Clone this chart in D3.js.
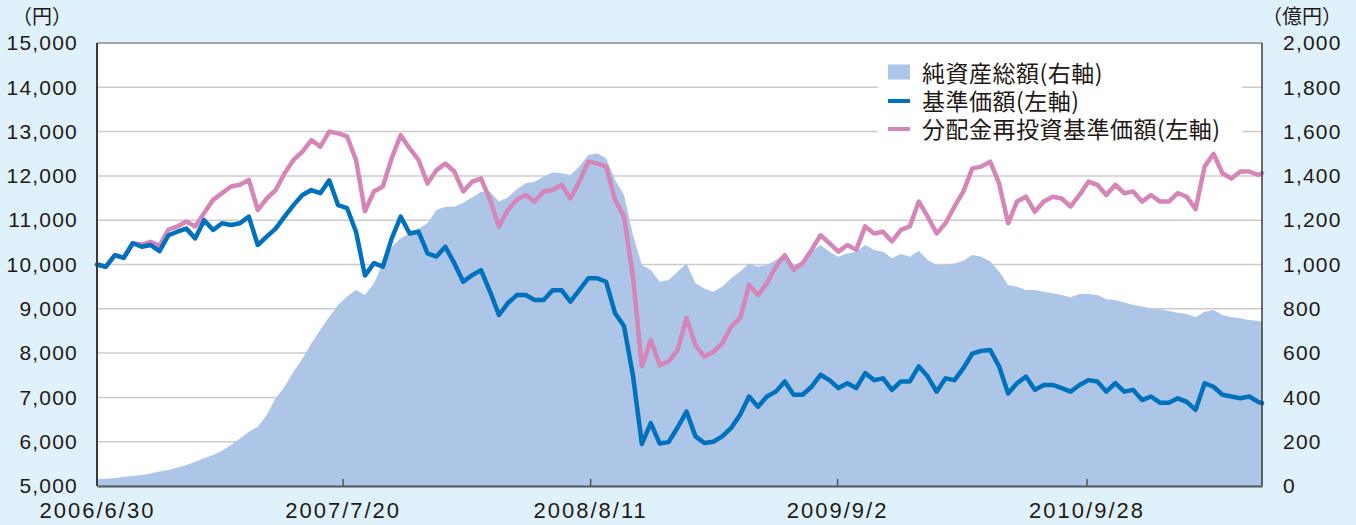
<!DOCTYPE html>
<html>
<head>
<meta charset="utf-8">
<script src="https://cdn.jsdelivr.net/npm/d3@7"></script>
<style>
  html, body { margin: 0; padding: 0; background: #dff1fb; }
  svg { display: block; }
</style>
</head>
<body>
<div id="chart"></div>
<script>
var startDate = "2006-06-30";
var endDate = "2011-06-30";
var stepDays = 14;
var tickDates = ["2006-06-30", "2007-07-20", "2008-08-11", "2009-09-02", "2010-09-28"];
var leftTicks = [5000, 6000, 7000, 8000, 9000, 10000, 11000, 12000, 13000, 14000, 15000];
var rightTicks = [0, 200, 400, 600, 800, 1000, 1200, 1400, 1600, 1800, 2000];
var legendLabels = ["純資産総額(右軸)", "基準価額(左軸)", "分配金再投資基準価額(左軸)"];

// 基準価額 (円)
var navPrice = [10000, 9950, 10210, 10150, 10480, 10400, 10440, 10300, 10660, 10740,
  10810, 10590, 11000, 10780, 10930, 10890, 10930, 11080, 10440, 10630,
  10810, 11080, 11340, 11570, 11680, 11610, 11900, 11340, 11270, 10740,
  9750, 10030, 9950, 10590, 11080, 10700, 10740, 10250, 10180, 10400,
  10030, 9610, 9760, 9870, 9390, 8860, 9130, 9310, 9310, 9200,
  9200, 9420, 9420, 9160, 9420, 9690, 9690, 9610, 8900, 8610,
  7500, 5950, 6420, 5960, 5990, 6320, 6680, 6120, 5970, 6000,
  6120, 6310, 6610, 7020, 6790, 7020, 7130, 7360, 7060, 7060,
  7240, 7510, 7390, 7210, 7320, 7210, 7550, 7390, 7430, 7170,
  7360, 7360, 7700, 7470, 7130, 7430, 7390, 7660, 7990, 8050,
  8070, 7700, 7090, 7320, 7470, 7170, 7280, 7280, 7210, 7130,
  7280, 7390, 7360, 7130, 7320, 7130, 7170, 6940, 7020, 6880,
  6880, 6980, 6900, 6720, 7320, 7240, 7060, 7020, 6980, 7020,
  6900, 6870];

// 分配金再投資基準価額 (円)
var reinvPrice = [10000, 9950, 10210, 10150, 10480, 10450, 10510, 10420, 10790, 10860,
  10970, 10860, 11160, 11460, 11610, 11760, 11800, 11910, 11230, 11490,
  11680, 12060, 12360, 12550, 12810, 12660, 13000, 12960, 12890, 12360,
  11200, 11650, 11760, 12400, 12920, 12620, 12360, 11830, 12130, 12280,
  12100, 11650, 11870, 11940, 11460, 10860, 11230, 11460, 11570, 11420,
  11650, 11680, 11800, 11490, 11870, 12320, 12280, 12210, 11460, 11080,
  9730, 7700, 8300, 7730, 7810, 8070, 8790, 8180, 7920, 8030,
  8220, 8600, 8790, 9540, 9310, 9580, 9950, 10210, 9880, 10030,
  10330, 10660, 10480, 10290, 10440, 10330, 10860, 10700, 10740, 10520,
  10780, 10860, 11420, 11080, 10700, 10930, 11310, 11650, 12170, 12210,
  12320, 11830, 10930, 11420, 11530, 11190, 11420, 11530, 11490, 11310,
  11570, 11870, 11800, 11570, 11800, 11610, 11650, 11420, 11570, 11420,
  11420, 11610, 11530, 11250, 12210, 12500, 12060, 11940, 12100, 12100,
  12020, 12060];

// 純資産総額 (億円)
var netAssets = [30, 33, 36, 41, 45, 50, 56, 66, 72, 83,
  95, 110, 125, 140, 159, 185, 215, 245, 268, 320,
  396, 448, 516, 575, 644, 704, 764, 817, 855, 885,
  862, 915, 1005, 1080, 1118, 1141, 1163, 1186, 1246, 1261,
  1261, 1279, 1303, 1329, 1329, 1284, 1303, 1340, 1367, 1374,
  1397, 1415, 1412, 1404, 1442, 1494, 1502, 1480, 1382, 1314,
  1133, 998, 975, 922, 930, 968, 1005, 915, 892, 877,
  900, 938, 968, 1005, 990, 998, 1020, 1050, 998, 1013,
  1058, 1088, 1058, 1035, 1050, 1058, 1088, 1065, 1058, 1028,
  1047, 1035, 1062, 1020, 998, 998, 1005, 1017, 1043, 1035,
  1013, 968, 908, 900, 885, 885, 877, 870, 862, 852,
  867, 867, 862, 843, 840, 828, 817, 810, 802, 798,
  790, 782, 777, 762, 787, 795, 772, 762, 757, 750,
  745, 742];

var width = 1356, height = 525;
var plotLeft = 97, plotRight = 1262, plotTop = 43, plotBottom = 486;
var numFont = "'Liberation Sans', Arial, sans-serif";
var jpFont = "'Noto Sans CJK JP', sans-serif";
var textColor = "#231815";

var parse = d3.timeParse("%Y-%m-%d");
var t0 = parse(startDate), t1 = parse(endDate);
var dates = navPrice.map(function(d, i) {
  return i === navPrice.length - 1 ? t1 : d3.timeDay.offset(t0, i * stepDays);
});

var svg = d3.select("#chart").append("svg")
  .attr("width", width)
  .attr("height", height)
  .style("background-color", "#dff1fb");

// Scales
var x = d3.scaleTime().domain([t0, t1]).range([plotLeft, plotRight]);
var yLeft = d3.scaleLinear().domain([5000, 15000]).range([plotBottom, plotTop]);
var yRight = d3.scaleLinear().domain([0, 2000]).range([plotBottom, plotTop]);

// plot background
svg.append("rect")
  .attr("x", plotLeft).attr("y", plotTop)
  .attr("width", plotRight - plotLeft).attr("height", plotBottom - plotTop)
  .attr("fill", "#ffffff");

// gridlines
svg.append("g").selectAll("line")
  .data(leftTicks.slice(1, -1))
  .enter().append("line")
  .attr("x1", plotLeft).attr("x2", plotRight)
  .attr("y1", function(d) { return yLeft(d); })
  .attr("y2", function(d) { return yLeft(d); })
  .attr("stroke", "#cccccc")
  .attr("stroke-width", 1.5);

// area (net assets)
var area = d3.area()
  .x(function(d, i) { return x(dates[i]); })
  .y0(plotBottom)
  .y1(function(d) { return yRight(d); });

svg.append("path")
  .datum(netAssets)
  .attr("d", area)
  .attr("fill", "#adc5e6");

// lines
var line = d3.line()
  .x(function(d, i) { return x(dates[i]); })
  .y(function(d) { return yLeft(d); });

svg.append("path")
  .datum(reinvPrice)
  .attr("d", line)
  .attr("fill", "none")
  .attr("stroke", "#d585b8")
  .attr("stroke-width", 4.5)
  .attr("stroke-linejoin", "round")
  .attr("stroke-linecap", "round");

svg.append("path")
  .datum(navPrice)
  .attr("d", line)
  .attr("fill", "none")
  .attr("stroke", "#0071bc")
  .attr("stroke-width", 4.5)
  .attr("stroke-linejoin", "round")
  .attr("stroke-linecap", "round");

// frame
svg.append("line").attr("x1", plotLeft).attr("x2", plotRight).attr("y1", plotTop).attr("y2", plotTop)
  .attr("stroke", "#8a8a8a").attr("stroke-width", 1.5);
svg.append("line").attr("x1", plotLeft).attr("x2", plotLeft).attr("y1", plotTop).attr("y2", plotBottom)
  .attr("stroke", "#3a3a3a").attr("stroke-width", 2);
svg.append("line").attr("x1", plotRight).attr("x2", plotRight).attr("y1", plotTop).attr("y2", plotBottom)
  .attr("stroke", "#3a3a3a").attr("stroke-width", 1.5);

// Axes
var fmtDate = d3.timeFormat("%Y/%-m/%-d");
var xAxis = svg.append("g")
  .attr("transform", "translate(0," + plotBottom + ")")
  .call(d3.axisBottom(x)
    .tickValues(tickDates.map(parse))
    .tickFormat(fmtDate)
    .tickSizeInner(-7)
    .tickSizeOuter(0)
    .tickPadding(16));
xAxis.select(".domain").attr("stroke", "#555").attr("stroke-width", 2);
xAxis.selectAll(".tick line").attr("stroke", "#555").attr("stroke-width", 1.5)
  .filter(function(d, i) { return i === 0; }).remove();
xAxis.selectAll("text")
  .style("font-family", numFont)
  .style("font-size", "22px")
  .style("letter-spacing", "2px")
  .attr("fill", textColor);

var yAxisL = svg.append("g")
  .attr("transform", "translate(" + plotLeft + ",0)")
  .call(d3.axisLeft(yLeft).tickValues(leftTicks).tickSize(0).tickPadding(19).tickFormat(d3.format(",")));
yAxisL.select(".domain").remove();
yAxisL.selectAll("text")
  .style("font-family", numFont)
  .style("font-size", "21px")
  .style("letter-spacing", "1.2px")
  .attr("fill", textColor);

var yAxisR = svg.append("g")
  .attr("transform", "translate(" + plotRight + ",0)")
  .call(d3.axisRight(yRight).tickValues(rightTicks).tickSize(0).tickPadding(21).tickFormat(d3.format(",")));
yAxisR.select(".domain").remove();
yAxisR.selectAll("text")
  .style("font-family", numFont)
  .style("font-size", "21px")
  .style("letter-spacing", "1.2px")
  .attr("fill", textColor);

// units
svg.append("text")
  .attr("x", 42).attr("y", 24)
  .attr("text-anchor", "middle")
  .style("font-family", jpFont).style("font-size", "20px")
  .attr("fill", textColor)
  .text("（円）");
svg.append("text")
  .attr("x", 1302).attr("y", 24)
  .attr("text-anchor", "middle")
  .style("font-family", jpFont).style("font-size", "20px")
  .attr("fill", textColor)
  .text("（億円）");

// Legend
var legend = svg.append("g");
legend.append("rect")
  .attr("x", 878).attr("y", 52)
  .attr("width", 364).attr("height", 94)
  .attr("fill", "#ffffff");

var rowY = [72, 100, 128];
legend.append("rect")
  .attr("x", 888).attr("y", rowY[0] - 7.5)
  .attr("width", 22).attr("height", 15)
  .attr("fill", "#adc5e6");
legend.append("line")
  .attr("x1", 888).attr("x2", 910).attr("y1", rowY[1] + 1).attr("y2", rowY[1] + 1)
  .attr("stroke", "#0071bc").attr("stroke-width", 4);
legend.append("line")
  .attr("x1", 888).attr("x2", 910).attr("y1", rowY[2] + 1).attr("y2", rowY[2] + 1)
  .attr("stroke", "#d585b8").attr("stroke-width", 4);

legend.selectAll("text.lg")
  .data(legendLabels)
  .enter().append("text")
  .attr("class", "lg")
  .attr("x", 922)
  .attr("y", function(d, i) { return rowY[i]; })
  .attr("dominant-baseline", "central")
  .style("font-family", jpFont)
  .style("font-size", "23px")
  .style("letter-spacing", "0.5px")
  .attr("fill", textColor)
  .text(function(d) { return d; });
</script>
</body>
</html>
